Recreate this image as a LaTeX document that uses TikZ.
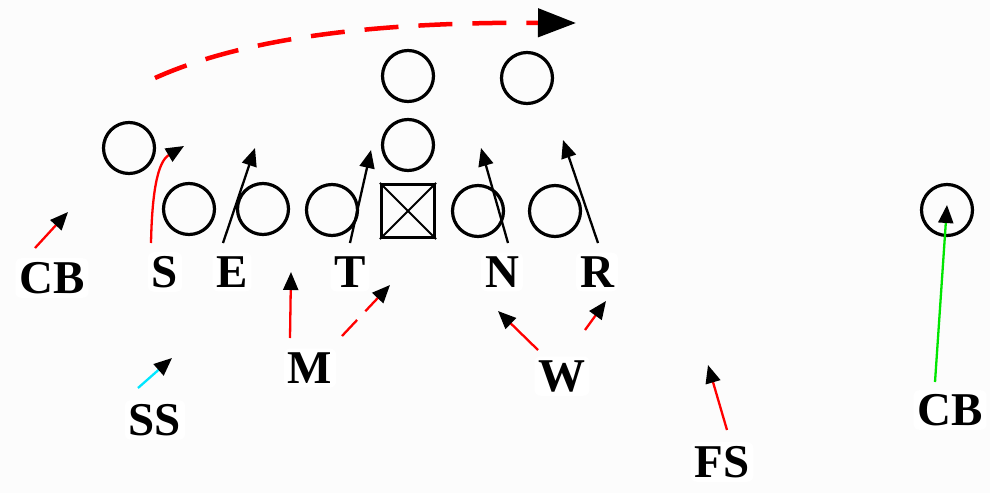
\documentclass[tikz,border=0pt]{standalone}
\usepackage{fontspec}
\setmainfont{Liberation Serif}
\usetikzlibrary{arrows.meta}
\definecolor{bgc}{RGB}{252,252,252}
\definecolor{rtred}{RGB}{255,0,0}
\definecolor{rtcyan}{RGB}{0,230,255}
\definecolor{rtgreen}{RGB}{0,230,0}
\begin{document}
\begin{tikzpicture}[x=1pt,y=-1pt,
  player/.style={draw=black,line width=3.2pt,circle,minimum size=51pt,inner sep=0pt},
  centerbox/.style={draw=black,line width=3.2pt,rectangle,minimum size=53pt,inner sep=0pt},
  lbl/.style={fill=white,rounded corners=6pt,inner sep=4pt,font=\bfseries\fontsize{47}{50}\selectfont},
  tip/.style={-{Triangle[length=18pt,width=15pt,color=black]}},
  mv/.style={line width=2.3pt,tip},
  redmv/.style={mv,draw=rtred},
  blkmv/.style={mv,draw=black},
]
\fill[bgc] (0,0) rectangle (990,493);
\useasboundingbox (0,0) rectangle (990,493);

% offense
\node[player] (wrl) at (129,148) {};
\node[player] (o1) at (189,209) {};
\node[player] (o2) at (263,209) {};
\node[player] (o3) at (332,210) {};
\node[centerbox] (c) at (408,211) {};
\draw[line width=2pt] (c.north west) -- (c.south east) (c.north east) -- (c.south west);
\node[player] (o4) at (478,211) {};
\node[player] (o5) at (555,211) {};
\node[player] (qb) at (408,145) {};
\node[player] (rb) at (408,76) {};
\node[player] (wing) at (527,78) {};
\node[player] (wrr) at (947,210) {};

% defense labels
\node[lbl] (cbl) at (52,278) {CB};
\node[lbl] (s) at (165,272) {S};
\node[lbl] (e) at (232,272) {E};
\node[lbl] (t) at (350,272) {T};
\node[lbl] (n) at (502,272) {N};
\node[lbl] (r) at (597,272) {R};
\node[lbl] (m) at (310,368) {M};
\node[lbl] (w) at (562,376) {W};
\node[lbl] (ss) at (155,420) {SS};
\node[lbl] (fs) at (722,462) {FS};
\node[lbl] (cbr) at (950,410) {CB};

% coordinates for route ends
\coordinate (arcS) at (155,78);
\coordinate (arcE) at (576,23);
\coordinate (sS) at (151,243);
\coordinate (sE) at (184,146);
\coordinate (eS) at (223,243);
\coordinate (eE) at (255,148);
\coordinate (tS) at (350,243);
\coordinate (tE) at (371,150);
\coordinate (nS) at (508,243);
\coordinate (nE) at (481,148);
\coordinate (rS) at (598,243);
\coordinate (rE) at (563,140);
\coordinate (cbS) at (35,248);
\coordinate (cbE) at (68,212);
\coordinate (mS) at (290,338);
\coordinate (mE) at (291,272);
\coordinate (mtS) at (342,336);
\coordinate (mtE) at (390,285);
\coordinate (wnS) at (538,350);
\coordinate (wnE) at (498,311);
\coordinate (wrS) at (585,330);
\coordinate (wrE) at (606,301);
\coordinate (ssS) at (138,388);
\coordinate (ssE) at (172,358);
\coordinate (fsS) at (727,430);
\coordinate (fsE) at (708,365);
\coordinate (cbrS) at (935,382);
\coordinate (cbrE) at (947,205);

% routes
\draw[rtred,line width=4.5pt,dash pattern=on 34pt off 20pt,
  -{Triangle[length=38pt,width=28pt,color=black]}]
  (arcS) .. controls (255,33) and (400,22) .. (arcE);
\draw[redmv] (sS) .. controls (152,195) and (157,162) .. (sE);
\draw[blkmv] (eS) -- (eE);
\draw[blkmv] (tS) -- (tE);
\draw[blkmv] (nS) -- (nE);
\draw[blkmv] (rS) -- (rE);
\draw[redmv] (cbS) -- (cbE);
\draw[redmv] (mS) -- (mE);
\draw[redmv,dash pattern=on 22pt off 12pt] (mtS) -- (mtE);
\draw[redmv] (wnS) -- (wnE);
\draw[redmv] (wrS) -- (wrE);
\draw[mv,draw=rtcyan] (ssS) -- (ssE);
\draw[redmv] (fsS) -- (fsE);
\draw[mv,draw=rtgreen] (cbrS) -- (cbrE);
\end{tikzpicture}
\end{document}
